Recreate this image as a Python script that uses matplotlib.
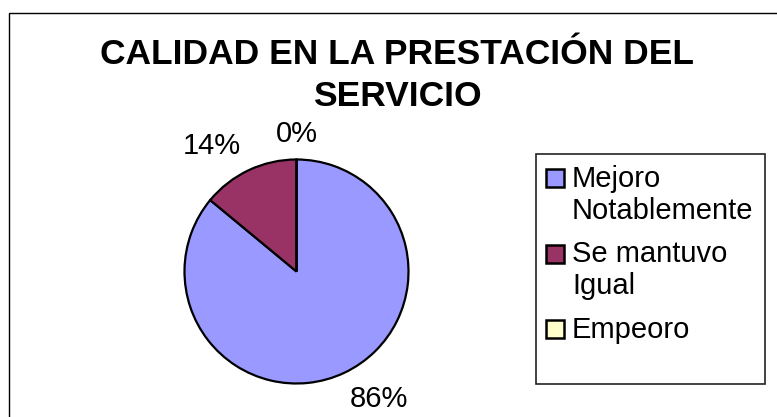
#!/usr/bin/env python3
"""
Calidad en la prestación del servicio - pie chart.
"""

import numpy as np
import matplotlib
matplotlib.use('Agg')
import matplotlib.pyplot as plt
from matplotlib.patches import Rectangle

TITLE_LINES = ["CALIDAD EN LA PRESTACIÓN DEL", "SERVICIO"]
categories = ["Mejoro\nNotablemente", "Se mantuvo\nIgual", "Empeoro"]
values = [86, 14, 0]
colors = ["#9999FF", "#993366", "#FFFFCC"]

W, H = 777, 417

plt.rcParams['font.family'] = ['Liberation Sans', 'DejaVu Sans']

fig = plt.figure(figsize=(W / 100, H / 100), dpi=100)


def px(x, y):
    """Pixel (from top-left) -> figure fraction."""
    return x / W, 1 - y / H


# outer chart border
fig.patches.append(Rectangle(px(9, 430), (W + 20) / W, (430 - 13) / H,
                             transform=fig.transFigure, fill=False,
                             edgecolor='black', linewidth=1.0))

# title, one line at a time
for i, line in enumerate(TITLE_LINES):
    tx, ty = px(397, 64 + i * 42)
    fig.text(tx, ty, line, ha='center', va='baseline', fontsize=25.5,
             fontweight='bold')

# pie
cx, cy, r = 296.5, 271.5, 112
ax = fig.add_axes([(cx - r) / W, (H - cy - r) / H, 2 * r / W, 2 * r / H])
total = sum(values)
labels = [f"{v / total * 100:.0f}%" for v in values]
wedges, _ = ax.pie(values, colors=colors, startangle=90, counterclock=False,
                   wedgeprops=dict(edgecolor='black', linewidth=1.6))

# percent labels just outside the rim, anchored by their near corner
for w, lab in zip(wedges, labels):
    ang = np.deg2rad((w.theta1 + w.theta2) / 2)
    c, s = np.cos(ang), np.sin(ang)
    ha = 'left' if c > 0.1 else ('right' if c < -0.1 else 'center')
    if s > 0:
        d, va = 1.16, 'baseline'
    else:
        d, va = 1.12, 'top'
    ax.text(d * c, d * s, lab, ha=ha, va=va, fontsize=21, clip_on=False)

ax.set_xlim(-1, 1)
ax.set_ylim(-1, 1)
ax.set_aspect('equal')
ax.axis('off')

# legend box
lx0, ly0 = px(536, 384)
lx1, ly1 = px(765, 154)
fig.patches.append(Rectangle((lx0, ly0), lx1 - lx0, ly1 - ly0,
                             transform=fig.transFigure, fill=False,
                             edgecolor='#222222', linewidth=1.2))

baseline = 187
for label, color in zip(categories, colors):
    sx, sy = px(546, baseline)
    fig.patches.append(Rectangle((sx, sy), 18 / W, 18 / H,
                                 transform=fig.transFigure, facecolor=color,
                                 edgecolor='black', linewidth=1.8))
    for j, line in enumerate(label.split("\n")):
        tx, ty = px(572, baseline + j * 32)
        fig.text(tx, ty, line, ha='left', va='baseline', fontsize=21)
    baseline += 75.5

fig.savefig("out.png", dpi=100)
